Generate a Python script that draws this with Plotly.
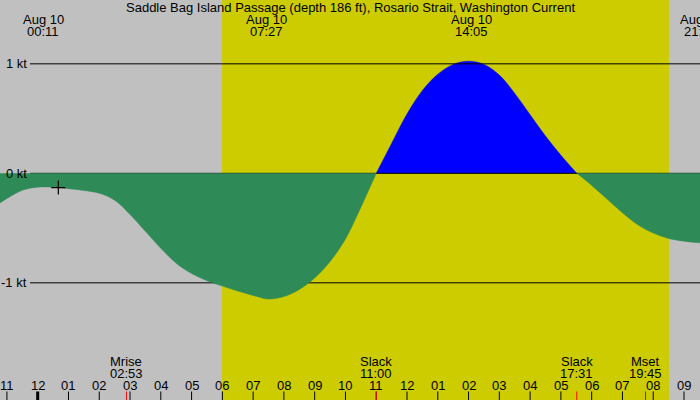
import plotly.graph_objects as go

# tidal current, Aug 10 (hours from midnight, knots; + flood, - ebb)
ebb1_hours = [-1.225, -1.0, -0.5, 0.0, 0.5, 1.0, 1.5, 2.0, 2.5, 3.0, 3.5, 4.0, 4.5, 5.0, 5.5, 6.0,
              6.5, 7.0, 7.5, 8.0, 8.5, 9.0, 9.5, 10.0, 10.5, 11.0]
ebb1_kt = [-0.27, -0.23, -0.155, -0.126, -0.127, -0.14, -0.156, -0.182, -0.245, -0.375, -0.53, -0.685,
           -0.82, -0.915, -0.98, -1.03, -1.075, -1.115, -1.148, -1.125, -1.06, -0.955, -0.805, -0.60, -0.31, 0.0]
flood_hours = [11.0, 11.5, 12.0, 12.5, 13.0, 13.5, 14.0, 14.5, 15.0, 15.5, 16.0, 16.5, 17.0, 17.517]
flood_kt = [0.0, 0.273, 0.542, 0.756, 0.905, 0.995, 1.024, 0.995, 0.897, 0.73, 0.535, 0.34, 0.165, 0.0]
ebb2_hours = [17.517, 18.0, 18.5, 19.0, 19.5, 20.0, 20.5, 21.0, 21.52]
ebb2_kt = [0.0, -0.11, -0.235, -0.36, -0.47, -0.545, -0.595, -0.62, -0.635]

now_hour = [0.67]
now_kt = [-0.13]

hour_ticks = list(range(-1, 22))
hour_labels = ["11", "12", "01", "02", "03", "04", "05", "06", "07", "08", "09", "10", "11",
               "12", "01", "02", "03", "04", "05", "06", "07", "08", "09"]

peak_hours = [0.183, 7.45, 14.083, 21.52]
peak_dates = ["Aug 10", "Aug 10", "Aug 10", "Aug 10"]
peak_times = ["00:11", "07:27", "14:05", "21:31"]

event_hours = [2.883, 11.0, 17.517, 19.75]
event_names = ["Mrise", "Slack", "Slack", "Mset"]
event_times = ["02:53", "11:00", "17:31", "19:45"]

kt_levels = [1, 0, -1]
kt_labels = ["1 kt", "0 kt", "-1 kt"]

sunrise, sunset = 5.99, 20.51

grey = "#c0c0c0"
yellow = "#cccc00"
green = "#2e8b57"
blue = "#0000ff"
font = dict(family="Liberation Sans, Arial, sans-serif", size=13, color="black")


def py(pix):
    # pixel row from the top -> paper fraction
    return (400 - pix) / 400


def label(fig, x, y, text, xref="x", yref="paper", xanchor="center"):
    fig.add_annotation(x=x, y=y, xref=xref, yref=yref, text=text, showarrow=False,
                       xanchor=xanchor, yanchor="middle", font=font)


fig = go.Figure()

fig.add_trace(go.Scatter(x=flood_hours, y=flood_kt, mode="lines", line=dict(color=blue, width=0.5, shape="spline"),
                         fill="tozeroy", fillcolor=blue, hoverinfo="skip"))

x_left = -0.25
for lvl in kt_levels:
    fig.add_trace(go.Scatter(x=[x_left, 21.52], y=[lvl, lvl], mode="lines",
                             line=dict(color="black", width=1), hoverinfo="skip"))

for hx, ky in [(ebb1_hours, ebb1_kt), (ebb2_hours, ebb2_kt)]:
    fig.add_trace(go.Scatter(x=hx, y=ky, mode="lines", line=dict(color=green, width=0.5, shape="spline"),
                             fill="tozeroy", fillcolor=green, hoverinfo="skip"))

fig.add_trace(go.Scatter(x=now_hour, y=now_kt, mode="markers",
                         marker=dict(symbol="cross-thin", size=10, line=dict(color="black", width=1.2)),
                         hoverinfo="skip"))

# daylight band
fig.add_shape(type="rect", xref="x", yref="paper", x0=sunrise, x1=sunset, y0=0, y1=1,
              fillcolor=yellow, line_width=0, layer="below")

# hour ticks along the bottom
for h, lab in zip(hour_ticks, hour_labels):
    fig.add_shape(type="line", xref="x", yref="paper", x0=h, x1=h, y0=0, y1=py(391.5),
                  line=dict(color="black", width=3 if h == 0 else 1))
    label(fig, h, py(385.5), lab)

for h, name, t in zip(event_hours, event_names, event_times):
    fig.add_shape(type="line", xref="x", yref="paper", x0=h, x1=h, y0=0, y1=py(391.5),
                  line=dict(color="red", width=1))
    label(fig, h, py(361.5), name)
    label(fig, h, py(373.5), t)

for h, d, t in zip(peak_hours, peak_dates, peak_times):
    label(fig, h, py(19.5), d)
    label(fig, h, py(31.5), t)

for lvl, lab in zip(kt_levels, kt_labels):
    label(fig, 28.5 / 700, lvl, lab, xref="paper", yref="y", xanchor="right")

label(fig, 0.5, py(7.5), "Saddle Bag Island Passage (depth 186 ft), Rosario Strait, Washington Current",
      xref="paper")

fig.update_layout(
    width=700, height=400,
    margin=dict(l=0, r=0, t=0, b=0),
    paper_bgcolor=grey, plot_bgcolor=grey,
    showlegend=False,
    xaxis=dict(range=[-1.225, 21.52], visible=False, fixedrange=True),
    yaxis=dict(range=[-2.07, 1.583], visible=False, fixedrange=True),
)

fig.write_html("out.html", config={"displayModeBar": False},
               post_script="document.body.style.margin='0';document.body.style.overflow='hidden';")
